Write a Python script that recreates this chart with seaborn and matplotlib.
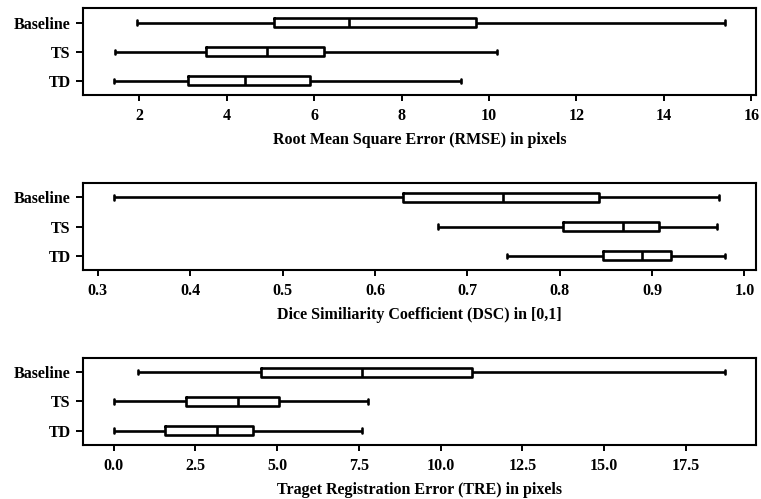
import matplotlib
matplotlib.use("Agg")
import matplotlib.pyplot as plt
import seaborn as sns
import pandas as pd

groups = ["Baseline", "TS", "TD"]

# five-number summaries: min, Q1, median, Q3, max
rmse_baseline = [1.95, 5.07, 6.79, 9.71, 15.40]
rmse_ts = [1.44, 3.52, 4.93, 6.23, 10.18]
rmse_td = [1.41, 3.12, 4.41, 5.90, 9.37]

dsc_baseline = [0.317, 0.630, 0.739, 0.842, 0.972]
dsc_ts = [0.668, 0.803, 0.868, 0.907, 0.970]
dsc_td = [0.743, 0.847, 0.889, 0.920, 0.979]

tre_baseline = [0.74, 4.52, 7.60, 10.97, 18.70]
tre_ts = [0.00, 2.23, 3.82, 5.07, 7.79]
tre_td = [0.00, 1.58, 3.15, 4.26, 7.60]

xlabels = [
    "Root Mean Square Error (RMSE) in pixels",
    "Dice Similiarity Coefficient (DSC) in [0,1]",
    "Traget Registration Error (TRE) in pixels",
]

panels = [
    [rmse_baseline, rmse_ts, rmse_td],
    [dsc_baseline, dsc_ts, dsc_td],
    [tre_baseline, tre_ts, tre_td],
]

sns.set_style("ticks")
plt.rcParams["font.family"] = ["Liberation Serif", "DejaVu Serif"]
plt.rcParams["font.weight"] = "bold"
plt.rcParams["axes.labelweight"] = "bold"
plt.rcParams["axes.labelcolor"] = "black"
plt.rcParams["text.color"] = "black"

fig, axes = plt.subplots(3, 1, figsize=(7.61, 4.99), dpi=100)
fig.subplots_adjust(left=0.109, right=0.993, top=0.984, bottom=0.108, hspace=1.0)

for ax, series, label in zip(axes, panels, xlabels):
    rows = []
    for g, vals in zip(groups, series):
        for v in vals:
            rows.append({"group": g, "value": v})
    df = pd.DataFrame(rows)
    sns.boxplot(data=df, x="value", y="group", order=groups, orient="h",
                whis=(0, 100), width=0.3, fill=False, color="black",
                linewidth=1.9, ax=ax)
    ax.set_ylabel("")
    ax.set_xlabel(label, fontsize=11.5, fontweight="bold", labelpad=6, color="black")
    for s in ax.spines.values():
        s.set_visible(True)
        s.set_linewidth(1.5)
        s.set_color("black")
    ax.tick_params(axis="x", length=4, width=1.4, pad=5, labelsize=11.5, colors="black")
    ax.tick_params(axis="y", length=5, width=1.4, pad=4, labelsize=11.5, colors="black")
    for t in ax.get_xticklabels() + ax.get_yticklabels():
        t.set_fontweight("bold")
    ax.margins(x=0.05)

fig.savefig("out.png", dpi=100)
